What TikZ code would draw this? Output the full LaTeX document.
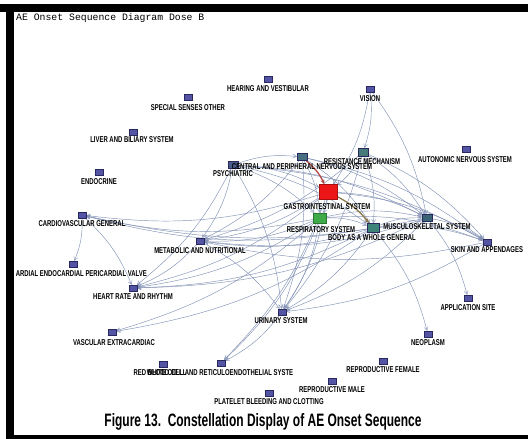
\documentclass[tikz,border=0pt]{standalone}
\usepackage{fontspec}
\setmainfont{Liberation Sans}
\newfontfamily\lblfont[FakeStretch=0.7]{Liberation Sans}
\newfontfamily\ttlfont{Liberation Mono}
\usetikzlibrary{arrows.meta}
\definecolor{nodeblue}{RGB}{84,84,165}
\definecolor{nodeedge}{RGB}{40,40,95}
\definecolor{edgecol}{RGB}{132,146,182}
\definecolor{psychc}{RGB}{72,92,140}
\definecolor{cnsc}{RGB}{72,112,128}
\definecolor{resc}{RGB}{70,122,122}
\definecolor{muscc}{RGB}{58,100,118}
\definecolor{bodyc}{RGB}{62,132,120}
\definecolor{gic}{RGB}{236,22,22}
\definecolor{respc}{RGB}{62,170,72}
\definecolor{redarrow}{RGB}{178,72,72}
\definecolor{olivearrow}{RGB}{140,120,74}
\pgfdeclarelayer{back}
\pgfdeclarelayer{edges}
\pgfsetlayers{back,edges,main}
\tikzset{
  sq/.style={rectangle, inner sep=0pt, minimum width=8pt, minimum height=6pt, fill=nodeblue, draw=nodeedge, line width=0.4pt},
  lbl/.style={inner sep=0pt, font=\lblfont\bfseries\fontsize{8.5}{9}\selectfont, text=black},
  cnx/.style={draw=edgecol, line width=0.45pt, -{Straight Barb[length=3.5pt,width=4pt]}, bend left=12},
  hot/.style={line width=1.3pt, -{Stealth[length=5pt,width=4pt]}},
  bar/.style={fill=black, draw=none},
}
\begin{document}
\begin{tikzpicture}[x=1pt,y=-1pt]
\useasboundingbox (0,0) rectangle (528,439);
\begin{pgfonlayer}{back}
\fill[white] (0,0) rectangle (528,439);
\end{pgfonlayer}

% title
\node[anchor=west, inner sep=0pt, font=\ttlfont\fontsize{9.8}{10}\selectfont] (title) at (16,18) {AE Onset Sequence Diagram Dose B};

% squares
\node[sq] (hear) at (268,79) {};
\node[sq] (spec) at (188,97) {};
\node[sq] (liver) at (133,132) {};
\node[sq] (vision) at (370,89) {};
\node[sq] (endo) at (99,172) {};
\node[sq, fill=psychc, minimum width=10pt, minimum height=7pt] (psych) at (233,165) {};
\node[sq, fill=cnsc, minimum width=10pt, minimum height=7pt] (cns) at (302,157) {};
\node[sq, fill=resc, minimum width=10pt, minimum height=8pt] (resist) at (363,152) {};
\node[sq] (auto) at (466,149) {};
\node[sq, fill=gic, draw=gic!70!black, minimum width=18pt, minimum height=15pt] (gi) at (328,192) {};
\node[sq, fill=respc, draw=respc!70!black, minimum width=13pt, minimum height=10pt] (resp) at (320,218) {};
\node[sq, fill=bodyc, minimum width=12pt, minimum height=9pt] (body) at (373,228) {};
\node[sq, fill=muscc, minimum width=10pt, minimum height=7pt] (musc) at (427,218) {};
\node[sq] (skin) at (487,242) {};
\node[sq] (cardio) at (82,215) {};
\node[sq] (metab) at (200,241) {};
\node[sq] (myo) at (73,264) {};
\node[sq] (heart) at (133,288) {};
\node[sq] (vasc) at (112,332) {};
\node[sq] (urin) at (282,312) {};
\node[sq] (neo) at (428,334) {};
\node[sq] (appl) at (468,298) {};
\node[sq] (repf) at (383,361) {};
\node[sq] (repm) at (332,381) {};
\node[sq] (plat) at (269,393) {};
\node[sq] (rbc) at (163,364) {};
\node[sq] (wbc) at (221,363) {};

% labels
\node[lbl] (hearL) at (268,89) {HEARING AND VESTIBULAR};
\node[lbl] (specL) at (188,108) {SPECIAL SENSES OTHER};
\node[lbl] (liverL) at (132,140) {LIVER AND BILIARY SYSTEM};
\node[lbl] (visionL) at (370,99) {VISION};
\node[lbl] (endoL) at (99,182) {ENDOCRINE};
\node[lbl] (psychL) at (233,174) {PSYCHIATRIC};
\node[lbl] (cnsL) at (302,167) {CENTRAL AND PERIPHERAL NERVOUS SYSTEM};
\node[lbl] (resistL) at (362,162) {RESISTANCE MECHANISM};
\node[lbl] (autoL) at (465,160) {AUTONOMIC NERVOUS SYSTEM};
\node[lbl] (giL) at (327,207) {GASTROINTESTINAL SYSTEM};
\node[lbl] (respL) at (321,230) {RESPIRATORY SYSTEM};
\node[lbl] (bodyL) at (372,238) {BODY AS A WHOLE GENERAL};
\node[lbl] (muscL) at (427,227) {MUSCULOSKELETAL SYSTEM};
\node[lbl] (skinL) at (487,250) {SKIN AND APPENDAGES};
\node[lbl] (cardioL) at (82,224) {CARDIOVASCULAR GENERAL};
\node[lbl] (metabL) at (200,251) {METABOLIC AND NUTRITIONAL};
\node[lbl, anchor=east] (myoL) at (147,274) {ARDIAL ENDOCARDIAL PERICARDIAL VALVE};
\node[lbl] (heartL) at (133,297) {HEART RATE AND RHYTHM};
\node[lbl] (vascL) at (114,343) {VASCULAR EXTRACARDIAC};
\node[lbl] (urinL) at (281,321) {URINARY SYSTEM};
\node[lbl] (neoL) at (428,343) {NEOPLASM};
\node[lbl] (applL) at (468,308) {APPLICATION SITE};
\node[lbl] (repfL) at (383,370) {REPRODUCTIVE FEMALE};
\node[lbl] (repmL) at (332,390) {REPRODUCTIVE MALE};
\node[lbl] (platL) at (269,402) {PLATELET BLEEDING AND CLOTTING};
\node[lbl] (wbcL) at (220,373) {WHITE CELL AND RETICULOENDOTHELIAL SYSTE};
\node[lbl] (rbcL) at (160,373) {RED BLOOD CELL};

% connectors
\begin{pgfonlayer}{edges}
\foreach \a/\b in {gi/cardio, resp/cardio, musc/cardio, body/cardio,
  cardio/myo, cardio/heart,
  gi/metab, resp/metab, body/metab, musc/metab, skin/metab, resist/metab, cns/metab, psych/metab,
  gi/heart, resp/heart, body/heart, musc/heart, metab/heart, psych/heart,
  resp/vasc, body/vasc,
  gi/urin, resp/urin, body/urin, cns/urin, psych/urin, musc/urin, resist/urin, skin/urin, metab/urin,
  urin/wbc, resp/wbc, gi/wbc,
  body/neo, musc/appl,
  vision/gi, vision/resist, vision/musc,
  gi/skin, resp/skin, body/skin, musc/skin, cns/skin, resist/skin, psych/skin,
  gi/musc, resp/musc, cns/musc, resist/musc, psych/musc, body/musc,
  resist/gi, psych/gi, gi/resp, resp/body, psych/resp, cns/resp, psych/cns, cns/body, resist/body, psych/body}
  {\draw[cnx] (\a) to (\b);}
\draw[cnx, hot, draw=redarrow] (cns) to (gi);
\draw[cnx, hot, draw=olivearrow] (gi) to (body);
\end{pgfonlayer}

% caption
\node[inner sep=0pt] (cap) at (263,422) {\resizebox{317pt}{13pt}{\bfseries Figure 13.\ \ Constellation Display of AE Onset Sequence}};

% black frame
\fill[bar] (0,4) rectangle (528,12);
\fill[bar] (6,4) rectangle (14,439);
\fill[bar] (6,435) rectangle (528,439);
\end{tikzpicture}
\end{document}
